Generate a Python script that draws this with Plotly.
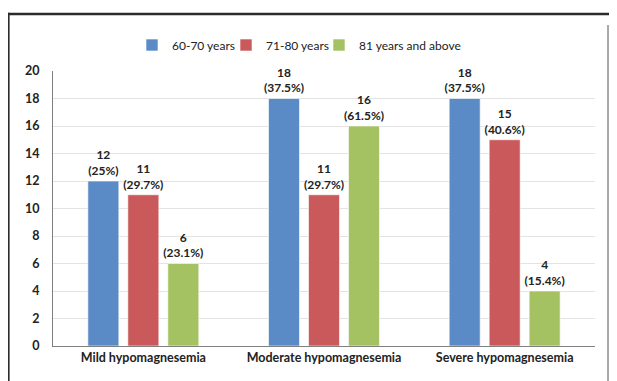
import plotly.graph_objects as go

categories = ["Mild hypomagnesemia", "Moderate hypomagnesemia", "Severe hypomagnesemia"]
series_names = ["60-70 years", "71-80 years", "81 years and above"]
values_60_70 = [12, 18, 18]
values_71_80 = [11, 11, 15]
values_81_up = [6, 16, 4]
pct_60_70 = ["25%", "37.5%", "37.5%"]
pct_71_80 = ["29.7%", "29.7%", "40.6%"]
pct_81_up = ["23.1%", "61.5%", "15.4%"]
y_ticks = [0, 2, 4, 6, 8, 10, 12, 14, 16, 18, 20]

colors = ["#5B8BC7", "#C9595A", "#A5C263"]
FONT = "Lato"

# page body has an 8px margin: figure drawn 8px right/down of window origin
W, H = 609, 373
L, R, T, B = 45, 22, 63, 35
PW = W - L - R
PH = H - T - B

legend_ids = ["legend", "legend2", "legend3"]
legend_text_x = [166, 260, 353]   # figure px where legend text should start

fig = go.Figure()
for name, vals, pcts, col, lid in zip(series_names,
                                      [values_60_70, values_71_80, values_81_up],
                                      [pct_60_70, pct_71_80, pct_81_up], colors, legend_ids):
    fig.add_trace(go.Bar(
        name=name, x=categories, y=vals, legend=lid,
        marker=dict(color=col, line=dict(color="rgba(255,255,255,0.6)", width=1)),
        text=[f"<b>{v}<br>({p})</b>" for v, p in zip(vals, pcts)],
        textposition="outside", cliponaxis=False, constraintext="none",
        textfont=dict(family=FONT, size=12, color="#222222"),
    ))

legend_y = 1 + 26 / PH
leg_common = dict(orientation="h", xanchor="left", y=legend_y, yanchor="middle",
                  font=dict(family=FONT, size=12, color="#222222"), itemwidth=30,
                  bgcolor="rgba(0,0,0,0)")
legends = {}
for lid, tx in zip(legend_ids, legend_text_x):
    legends[lid] = dict(leg_common, x=(tx - 42 - L) / PW)

fig.update_layout(
    width=W, height=H,
    margin=dict(l=L, r=R, t=T, b=B, autoexpand=False),
    paper_bgcolor="white", plot_bgcolor="white",
    barmode="group", bargap=0.336, bargroupgap=0.225,
    font=dict(family=FONT, size=12, color="#222222"),
    showlegend=True,
    **legends,
    xaxis=dict(showline=True, linecolor="#808080", linewidth=1, ticks="",
               automargin=False,
               tickfont=dict(family=FONT, size=12.5, color="#222222", weight="bold")),
    yaxis=dict(range=[0, 20], tickvals=y_ticks, showgrid=True, gridcolor="#E3E3E3",
               showline=True, linecolor="#808080", linewidth=1, zeroline=False,
               ticks="", ticklabelstandoff=10, automargin=False,
               tickfont=dict(family=FONT, size=12.5, color="#222222", weight="bold")),
    shapes=[
        dict(type="line", xref="paper", yref="paper", xsizemode="pixel", ysizemode="pixel",
             xanchor=0, yanchor=1, x0=-45, x1=W, y0=57, y1=57,
             line=dict(color="#2b2b2b", width=2.5)),
        dict(type="line", xref="paper", yref="paper", xsizemode="pixel", ysizemode="pixel",
             xanchor=0, yanchor=1, x0=-44.5, x1=-44.5, y0=58.2, y1=-320,
             line=dict(color="#2b2b2b", width=2.2)),
        dict(type="line", xref="paper", yref="paper", xsizemode="pixel", ysizemode="pixel",
             xanchor=0, yanchor=1, x0=555, x1=555, y0=46, y1=-320,
             line=dict(color="#555555", width=1)),
    ],
)

fig.write_html("out.html")
